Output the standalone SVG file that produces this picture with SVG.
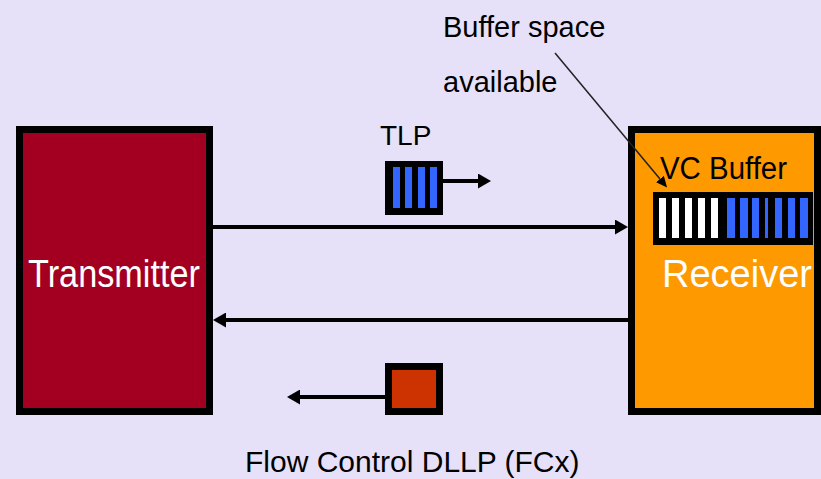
<svg xmlns="http://www.w3.org/2000/svg" width="821" height="479" viewBox="0 0 821 479">
<style>
.t{font-family:"Liberation Sans",Arial,sans-serif;fill:#000}
.w{font-family:"Liberation Sans",Arial,sans-serif;fill:#fff}
.blue{fill:#3366FF}
.white{fill:#fff}
.conn{stroke:#000;stroke-width:4;fill:none}
</style>
<defs>
<marker id="ah" markerUnits="userSpaceOnUse" markerWidth="13" markerHeight="15" refX="0" refY="7.5" orient="auto">
<path d="M0,0 L13,7.5 L0,15 z" fill="#000"/>
</marker>
<marker id="ahs" markerUnits="userSpaceOnUse" markerWidth="11" markerHeight="10" refX="0" refY="5" orient="auto">
<path d="M0,0 L11,5 L0,10 z" fill="#000"/>
</marker>
</defs>
<rect width="821" height="479" fill="#E6E0F8"/>
<g id="transmitter">
<rect x="19.5" y="129.5" width="190" height="282" fill="#A30021" stroke="#000" stroke-width="7"/>
<text class="w" x="28" y="287" font-size="38" textLength="172" lengthAdjust="spacingAndGlyphs">Transmitter</text>
</g>
<g id="receiver">
<rect x="631.5" y="129.5" width="186" height="282" fill="#FF9900" stroke="#000" stroke-width="7"/>
<text class="t" x="660" y="179" font-size="31" textLength="127" lengthAdjust="spacingAndGlyphs">VC Buffer</text>
<text class="w" x="662" y="287" font-size="38" textLength="150" lengthAdjust="spacingAndGlyphs">Receiver</text>
</g>
<g id="vc-buffer">
<rect x="653" y="192" width="160" height="53" fill="#000"/>
<rect class="white" x="659" y="198" width="7" height="40"/>
<rect class="white" x="672" y="198" width="7" height="40"/>
<rect class="white" x="685" y="198" width="7" height="40"/>
<rect class="white" x="698" y="198" width="7" height="40"/>
<rect class="white" x="711" y="198" width="7" height="40"/>
<rect class="blue" x="727" y="198" width="8" height="40"/>
<rect class="blue" x="740" y="198" width="8" height="40"/>
<rect class="blue" x="752" y="198" width="7" height="40"/>
<rect class="blue" x="765" y="198" width="3" height="40"/>
<rect class="blue" x="775" y="198" width="7" height="40"/>
<rect class="blue" x="788" y="198" width="7" height="40"/>
<rect class="blue" x="800" y="198" width="8" height="40"/>
</g>
<g id="tlp">
<text class="t" x="380" y="145" font-size="28">TLP</text>
<rect x="385" y="161" width="58" height="54" fill="#000"/>
<rect class="blue" x="393" y="167" width="7" height="41"/>
<rect class="blue" x="405" y="167" width="7" height="41"/>
<rect class="blue" x="418" y="167" width="7" height="41"/>
<rect class="blue" x="430" y="167" width="7" height="41"/>
</g>
<g id="dllp">
<rect x="388.5" y="366.5" width="51" height="45" fill="#CC3300" stroke="#000" stroke-width="7"/>
<text class="t" x="245" y="472" font-size="30">Flow Control DLLP (FCx)</text>
</g>
<g id="buffer-label">
<text class="t" x="443" y="37" font-size="29">Buffer space</text>
<text class="t" x="443" y="92" font-size="29">available</text>
</g>
<g id="connectors">
<line class="conn" x1="213" y1="227" x2="615" y2="227" marker-end="url(#ah)"/>
<line class="conn" x1="628" y1="320" x2="226" y2="320" marker-end="url(#ah)"/>
<line class="conn" x1="443" y1="181" x2="478" y2="181" stroke-width="3.5" marker-end="url(#ah)"/>
<line class="conn" x1="385" y1="397" x2="300" y2="397" stroke-width="3.5" marker-end="url(#ah)"/>
<line x1="555" y1="53" x2="660" y2="179" stroke="#222" stroke-width="1.5" marker-end="url(#ahs)"/>
</g>
</svg>
